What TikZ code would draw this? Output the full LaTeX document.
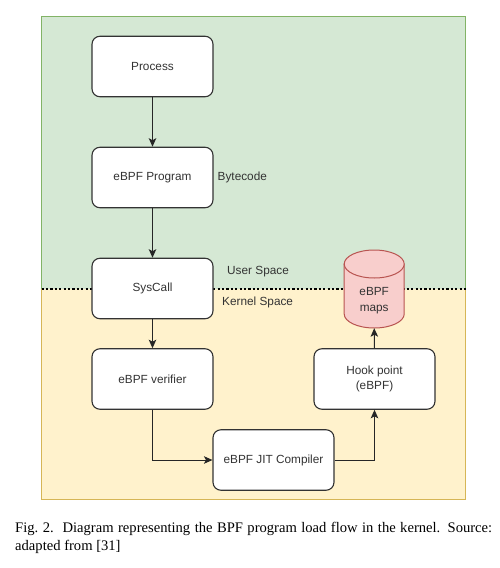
\documentclass[tikz,border=0pt]{standalone}
\usepackage{fontspec}
\setmainfont{Liberation Serif}
\newfontfamily\diagfont{Liberation Sans}
\usetikzlibrary{arrows.meta}
\definecolor{ugreen}{HTML}{D5E8D4}
\definecolor{ugreenline}{HTML}{82B366}
\definecolor{kyellow}{HTML}{FFF2CC}
\definecolor{kyellowline}{HTML}{D6B656}
\definecolor{mapfill}{HTML}{F8CECC}
\definecolor{mapline}{HTML}{B85450}
\definecolor{boxline}{HTML}{333333}
\tikzset{
  flowbox/.style={draw=boxline, fill=white, line width=1.1pt, rounded corners=8pt,
    minimum width=121pt, minimum height=60.5pt, inner sep=0pt, align=center,
    font=\diagfont\fontsize{11.8}{14.5}\selectfont, text=boxline},
  lbl/.style={font=\diagfont\fontsize{11.8}{14}\selectfont, text=boxline, inner sep=0pt},
  flow/.style={draw=black!85, line width=1pt, -{Stealth[length=8.5pt,width=7.5pt,inset=2pt]}},
  mapstyle/.style={draw=mapline, fill=mapfill, line width=1pt},
}
\begin{document}
\begin{tikzpicture}[x=1pt,y=-1pt]
\useasboundingbox (0,0) rectangle (500,568);
% regions
\fill[ugreen] (41.5,16) rectangle (465.5,288.5);
\fill[kyellow] (41.5,288.5) rectangle (465.5,499.5);
\draw[ugreenline, line width=1pt] (41.5,288.5) -- (41.5,16) -- (465.5,16) -- (465.5,288.5);
\draw[kyellowline, line width=1pt] (41.5,288.5) -- (41.5,499.5) -- (465.5,499.5) -- (465.5,288.5);
\coordinate (dl) at (41.5,288.5);
\coordinate (dr) at (465.5,288.5);
\draw[black, line width=2pt, dash pattern=on 2.2pt off 2.2pt] (dl) -- (dr);
% boxes
\node[flowbox] (proc) at (152.5,66.5) {Process};
\node[flowbox] (prog) at (152.5,177.5) {eBPF Program};
\node[flowbox] (sys) at (152.5,288.5) {SysCall};
\node[flowbox] (ver) at (152.5,379) {eBPF verifier};
\node[flowbox] (jit) at (273.5,460) {eBPF JIT Compiler};
\node[flowbox] (hook) at (374.5,379) {Hook point\\(eBPF)};
% cylinder (eBPF maps)
\path[mapstyle] (344.2,264) -- (344.2,314)
  .. controls (344.2,321.7) and (357.6,328) .. (374.2,328)
  .. controls (390.8,328) and (404.2,321.7) .. (404.2,314)
  -- (404.2,264) -- cycle;
\path[mapstyle] (374.2,264) ellipse [x radius=30pt, y radius=14pt];
\node[minimum width=60pt, minimum height=78pt, inner sep=0pt] (maps) at (374.2,289) {};
\node[lbl, align=center, font=\diagfont\fontsize{11.8}{16}\selectfont] (mapstext) at (374.2,301) {eBPF\\maps};
% labels
\node[lbl, anchor=west] (byte) at (217.5,177) {Bytecode};
\node[lbl, anchor=west] (user) at (227,272) {User Space};
\node[lbl, anchor=west] (kern) at (222,302.5) {Kernel Space};
% connectors
\draw[flow] (proc) -- (prog);
\draw[flow] (prog) -- (sys);
\draw[flow] (sys) -- (ver);
\draw[flow] (ver.south) |- (jit.west);
\draw[flow] (jit.east) -| (hook.south);
\draw[flow] (hook.north) -- (maps.south);
% caption
\node[anchor=north west, inner sep=0pt, text width=477pt, align=justify,
  font=\fontsize{14.6}{18}\selectfont] (cap) at (15,522)
  {Fig.~2.\ \ Diagram representing the BPF program load flow in the kernel. Source: \linebreak adapted from [31]};
\end{tikzpicture}
\end{document}
